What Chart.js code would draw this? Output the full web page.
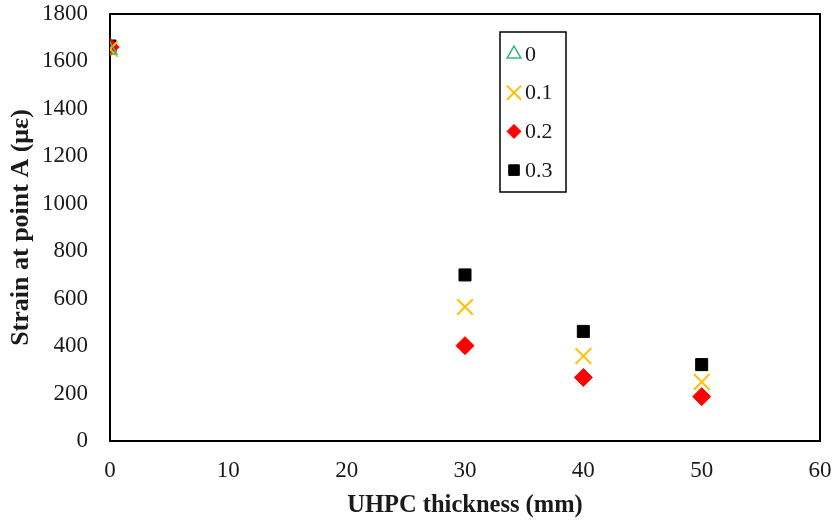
<!DOCTYPE html>
<html>
<head>
<meta charset="utf-8">
<script src="https://cdn.jsdelivr.net/npm/chart.js@4/dist/chart.umd.min.js"></script>
<style>
  html, body { margin: 0; padding: 0; background: #fff; }
  #wrap { width: 836px; height: 524px; }
</style>
</head>
<body>
<div id="wrap"><canvas id="chartCanvas" width="836" height="524"></canvas></div>
<script>
// fibre ratio series, strain at point A vs UHPC thickness
var seriesNames = ['0', '0.1', '0.2', '0.3'];
var thickness0 = [0];
var strain0 = [1648];
var thickness = [0, 30, 40, 50];
var strain01 = [1652, 565, 358, 249];
var strain02 = [1660, 402, 268, 187];
var strain03 = [1665, 700, 462, 322];

var xTicks = [0, 10, 20, 30, 40, 50, 60];
var yTicks = [0, 200, 400, 600, 800, 1000, 1200, 1400, 1600, 1800];

function toPoints(xs, ys) {
    return xs.map(function(x, i) { return { x: x, y: ys[i] }; });
}

var serif = "'Liberation Serif', 'Times New Roman', serif";

// frame around plot area
var framePlugin = {
    id: 'frame',
    beforeDatasetsDraw: function(chart) {
        var a = chart.chartArea, c = chart.ctx;
        c.save();
        c.strokeStyle = '#000';
        c.lineWidth = 2;
        c.strokeRect(a.left, a.top, a.right - a.left, a.bottom - a.top);
        c.restore();
    }
};

// legend box drawn inside the plot
var boxLegend = {
    id: 'boxLegend',
    afterDraw: function(chart) {
        var c = chart.ctx;
        var x0 = 500, y0 = 32, w = 66, h = 160, step = 38.7;
        c.save();
        c.fillStyle = '#fff';
        c.fillRect(x0, y0, w, h);
        c.strokeStyle = '#000';
        c.lineWidth = 1.5;
        c.strokeRect(x0, y0, w, h);
        chart.data.datasets.forEach(function(ds, i) {
            var cy = y0 + 22 + i * step;
            c.fillStyle = ds.backgroundColor;
            c.strokeStyle = ds.pointBorderColor;
            c.lineWidth = ds.borderWidth;
            Chart.helpers.drawPoint(c, {
                pointStyle: ds.pointStyle,
                radius: ds.legendRadius,
                borderWidth: ds.borderWidth
            }, x0 + 14, cy);
            c.fillStyle = '#1a1a1a';
            c.font = '22px ' + serif;
            c.textBaseline = 'middle';
            c.textAlign = 'left';
            c.fillText(ds.label, x0 + 25, cy + 1);
        });
        c.restore();
    }
};

var ctx = document.getElementById('chartCanvas');

var myChart = new Chart(ctx, {
    type: 'scatter',
    data: {
        datasets: [{
            label: seriesNames[0],
            data: toPoints(thickness0, strain0),
            pointStyle: 'triangle',
            pointRadius: 8,
            legendRadius: 8,
            backgroundColor: 'rgba(0,0,0,0)',
            pointBorderColor: '#3CB878',
            borderColor: '#3CB878',
            borderWidth: 1.5
        },
        {
            label: seriesNames[1],
            data: toPoints(thickness, strain01),
            pointStyle: 'crossRot',
            pointRadius: 11,
            legendRadius: 10,
            backgroundColor: '#FFC000',
            pointBorderColor: '#FFC000',
            borderColor: '#FFC000',
            borderWidth: 2
        },
        {
            label: seriesNames[2],
            data: toPoints(thickness, strain02),
            pointStyle: 'rectRot',
            pointRadius: 9,
            legendRadius: 7,
            backgroundColor: '#FF0000',
            pointBorderColor: '#FF0000',
            borderColor: '#FF0000',
            borderWidth: 1
        },
        {
            label: seriesNames[3],
            data: toPoints(thickness, strain03),
            pointStyle: 'rect',
            pointRadius: 8.5,
            legendRadius: 7.5,
            backgroundColor: '#000000',
            pointBorderColor: '#000000',
            borderColor: '#000000',
            borderWidth: 1
        }]
    },
    options: {
        responsive: false,
        animation: false,
        layout: { padding: { left: 0, right: 16, top: 14, bottom: 0 } },
        scales: {
            x: {
                type: 'linear',
                min: 0,
                max: 60,
                afterBuildTicks: function(axis) {
                    axis.ticks = xTicks.map(function(v) { return { value: v }; });
                },
                afterFit: function(axis) {
                    axis.height = 83;
                    axis.paddingLeft = 0;
                    axis.paddingRight = 0;
                },
                grid: { display: false, drawTicks: false },
                border: { display: false },
                ticks: {
                    color: '#1a1a1a',
                    padding: 16,
                    font: { family: serif, size: 23 },
                    callback: function(v) { return String(v); }
                },
                title: {
                    display: true,
                    text: 'UHPC thickness (mm)',
                    color: '#1a1a1a',
                    padding: { top: 5 },
                    font: { family: serif, size: 24.5, weight: 'bold' }
                }
            },
            y: {
                type: 'linear',
                min: 0,
                max: 1800,
                afterBuildTicks: function(axis) {
                    axis.ticks = yTicks.map(function(v) { return { value: v }; });
                },
                afterFit: function(axis) {
                    axis.width = 110;
                    axis.paddingTop = 0;
                    axis.paddingBottom = 0;
                },
                grid: { display: false, drawTicks: false },
                border: { display: false },
                ticks: {
                    color: '#1a1a1a',
                    padding: 22,
                    font: { family: serif, size: 23 },
                    callback: function(v) { return String(v); }
                },
                title: {
                    display: true,
                    text: 'Strain at point A (με)',
                    color: '#1a1a1a',
                    padding: { top: 6, bottom: 0 },
                    font: { family: serif, size: 26, weight: 'bold' }
                }
            }
        },
        plugins: {
            legend: { display: false },
            tooltip: { enabled: false }
        }
    },
    plugins: [framePlugin, boxLegend]
});
</script>
</body>
</html>
